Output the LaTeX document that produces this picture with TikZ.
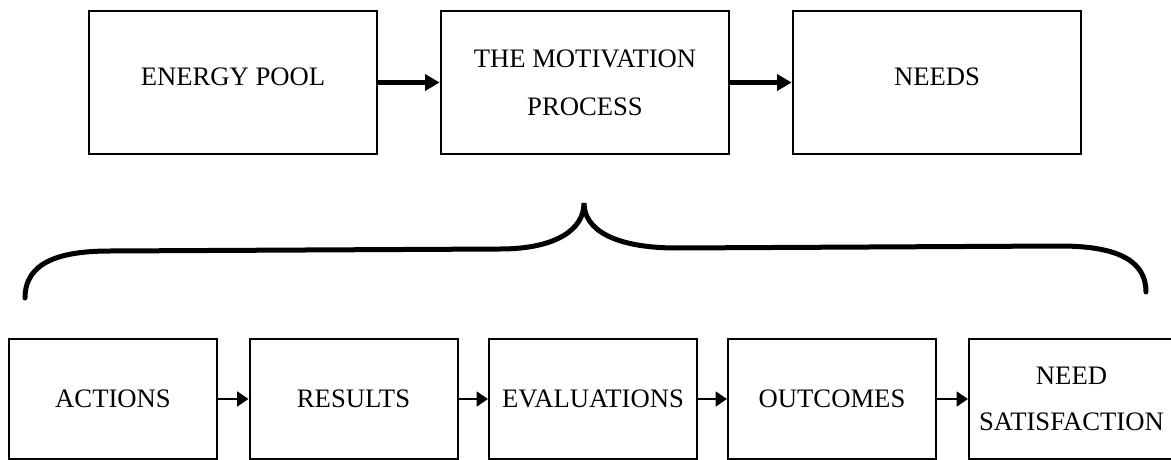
\documentclass[tikz,border=0pt]{standalone}
\usepackage{fontspec}
\setmainfont{Liberation Serif}
\usetikzlibrary{arrows.meta}
\tikzset{
  topbox/.style={draw, line width=2pt, rectangle, inner sep=0pt, align=center,
    minimum width=216pt, minimum height=107.25pt, font=\fontsize{20}{36}\selectfont},
  botbox/.style={draw, line width=1.5pt, rectangle, inner sep=0pt, align=center,
    minimum width=156pt, minimum height=90pt, font=\fontsize{20}{34.5}\selectfont},
  toparrow/.style={line width=4pt, -{Triangle[length=11pt,width=12pt]}},
  botarrow/.style={line width=2pt, -{Triangle[length=8.5pt,width=11pt]}},
  bracket/.style={line width=3.75pt, line cap=round}
}
\begin{document}
\begin{tikzpicture}[x=0.75pt,y=-0.75pt]
\useasboundingbox (0,0) rectangle (1171,460);
% top row
\node[topbox] (pool) at (233,82.5) {\raisebox{8pt}{ENERGY POOL}};
\node[topbox] (mot) at (585,82.5) {THE MOTIVATION\\PROCESS};
\node[topbox] (needs) at (937,82.5) {\raisebox{8pt}{NEEDS}};
\draw[toparrow] (pool.east) -- (mot.west);
\draw[toparrow] (mot.east) -- (needs.west);
% bracket
\draw[bracket] (25,298) .. controls (25,262) and (60,251) .. (110,251)
  -- (500,249) .. controls (555,249) and (584,230) .. (584,203)
  .. controls (584,230) and (615,248) .. (677,248)
  -- (1060,246) .. controls (1120,246) and (1146,262) .. (1146,292);
% bottom row
\node[botbox] (act) at (113,399) {ACTIONS};
\node[botbox] (res) at (353.5,399) {RESULTS};
\node[botbox] (eval) at (593,399) {EVALUATIONS};
\node[botbox] (out) at (832,399) {OUTCOMES};
\node[botbox, minimum width=153.75pt] (sat) at (1071.5,399) {NEED\\SATISFACTION};
\draw[botarrow] (act.east) -- (res.west);
\draw[botarrow] (res.east) -- (eval.west);
\draw[botarrow] (eval.east) -- (out.west);
\draw[botarrow] (out.east) -- (sat.west);
\end{tikzpicture}
\end{document}
